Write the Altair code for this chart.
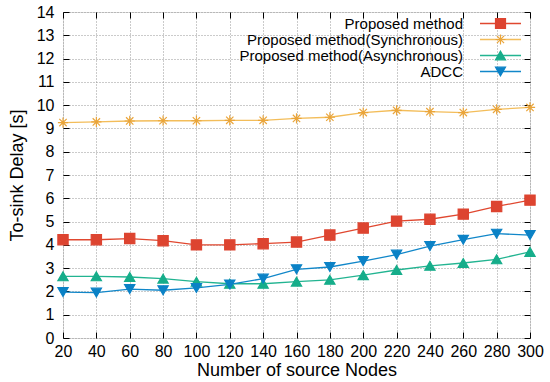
import altair as alt
import pandas as pd

nodes = [20, 40, 60, 80, 100, 120, 140, 160, 180, 200, 220, 240, 260, 280, 300]
proposed = [4.22, 4.22, 4.27, 4.18, 4.00, 4.00, 4.05, 4.12, 4.42, 4.72, 5.02, 5.10, 5.32, 5.65, 5.92]
synchronous = [9.25, 9.28, 9.32, 9.33, 9.33, 9.35, 9.35, 9.43, 9.48, 9.68, 9.78, 9.72, 9.68, 9.82, 9.90]
asynchronous = [2.65, 2.65, 2.62, 2.55, 2.42, 2.33, 2.33, 2.42, 2.50, 2.70, 2.92, 3.10, 3.22, 3.38, 3.70]
adcc = [1.97, 1.95, 2.10, 2.05, 2.15, 2.30, 2.55, 2.95, 3.05, 3.30, 3.58, 3.95, 4.22, 4.48, 4.42]

names = ["Proposed method", "Proposed method(Synchronous)",
         "Proposed method(Asynchronous)", "ADCC"]
series_values = [proposed, synchronous, asynchronous, adcc]
line_colors = ["#e0472f", "#f3bd5a", "#22b491", "#1187c9"]
marker_colors = ["#dd4430", "#eaa53a", "#16ad8a", "#0b82c6"]
asterisk = "M-1,0H1M0,-1V1M-0.72,-0.72L0.72,0.72M-0.72,0.72L0.72,-0.72"
shapes = ["square", asterisk, "triangle-up", "triangle-down"]

line_names = [n + " " for n in names]
rows = []
for name, lname, vals in zip(names, line_names, series_values):
    for n, v in zip(nodes, vals):
        rows.append({"series": name, "series_line": lname, "n": n, "delay": v})
df = pd.DataFrame(rows)

FONT = "Liberation Sans"
xscale = alt.Scale(domain=[20, 300], nice=False, zero=False)
yscale = alt.Scale(domain=[0, 14], nice=False)
xticks = list(range(20, 301, 20))
yticks = list(range(0, 15))

legend_common = dict(
    orient="none", legendX=430, legendY=4, title=None, padding=0,
    symbolSize=100, labelAlign="right", labelOffset={"expr": "-45"},
    labelFont=FONT, labelFontSize=15, labelColor="#000000", labelLimit=400,
    rowPadding=0, direction="vertical",
)

line_legend = alt.Legend(symbolType="M-4.1,0H4.1", symbolStrokeWidth=1.5,
                         labelOpacity=0, **legend_common)
point_legend = alt.Legend(symbolStrokeWidth=1.2, **legend_common)

lines = alt.Chart(df).mark_line(strokeWidth=1.3).encode(
    x=alt.X("n:Q", scale=xscale, axis=alt.Axis(
        orient="bottom", values=xticks, grid=True, gridColor="#8a8a8a",
        gridDash=[1, 2], gridWidth=0.9, ticks=False, domain=False,
        labelOverlap=False, labelFlush=False,
        labelFont=FONT, labelFontSize=16, labelColor="#000", labelPadding=5,
        title="Number of source Nodes", titleFont=FONT, titleFontSize=18,
        titleFontWeight="normal", titleColor="#000", titlePadding=2)),
    y=alt.Y("delay:Q", scale=yscale, axis=alt.Axis(
        orient="left", values=yticks, grid=True, gridColor="#8a8a8a",
        gridDash=[1, 2], gridWidth=0.9, ticks=False, domain=False,
        labelOverlap=False, labelFlush=False,
        labelFont=FONT, labelFontSize=16, labelColor="#000", labelPadding=9,
        title="To-sink Delay [s]", titleFont=FONT, titleFontSize=18,
        titleFontWeight="normal", titleColor="#000", titlePadding=10)),
    color=alt.Color("series_line:N", scale=alt.Scale(domain=line_names, range=line_colors),
                    legend=line_legend),
)

pscale_fill = alt.Scale(domain=names, range=marker_colors)
points = alt.Chart(df).mark_point(filled=True, size=105, strokeWidth=1.2, opacity=1).encode(
    x=alt.X("n:Q", scale=xscale, axis=alt.Axis(
        orient="bottom", values=xticks, offset=-6, tickSize=6, ticks=True,
        tickColor="#000", labels=False, grid=False, domain=False, title=None)),
    y=alt.Y("delay:Q", scale=yscale, axis=alt.Axis(
        orient="left", values=yticks, offset=-6, tickSize=6, ticks=True,
        tickColor="#000", labels=False, grid=False, domain=False, title=None)),
    fill=alt.Fill("series:N", scale=pscale_fill, legend=point_legend),
    stroke=alt.Stroke("series:N", scale=pscale_fill, legend=point_legend),
    shape=alt.Shape("series:N", scale=alt.Scale(domain=names, range=shapes), legend=point_legend),
)

mirror = alt.Chart(df).mark_line(opacity=0).encode(
    x=alt.X("n:Q", scale=xscale, axis=alt.Axis(
        orient="top", values=xticks, offset=-6, tickSize=6, ticks=True,
        tickColor="#000", labels=False, grid=False, domain=False, title=None)),
    y=alt.Y("delay:Q", scale=yscale, axis=alt.Axis(
        orient="right", values=yticks, offset=-6, tickSize=6, ticks=True,
        tickColor="#000", labels=False, grid=False, domain=False, title=None)),
    detail="series:N",
)

chart = alt.layer(lines, points, mirror).resolve_axis(
    x="independent", y="independent"
).properties(
    width=467, height=326, autosize="none",
    padding={"left": 63, "top": 12, "right": 20, "bottom": 44},
).configure_view(stroke="#000000", strokeWidth=1.2).configure(background="white")

chart.save("out.html", embed_options={"renderer": "svg", "actions": False})
